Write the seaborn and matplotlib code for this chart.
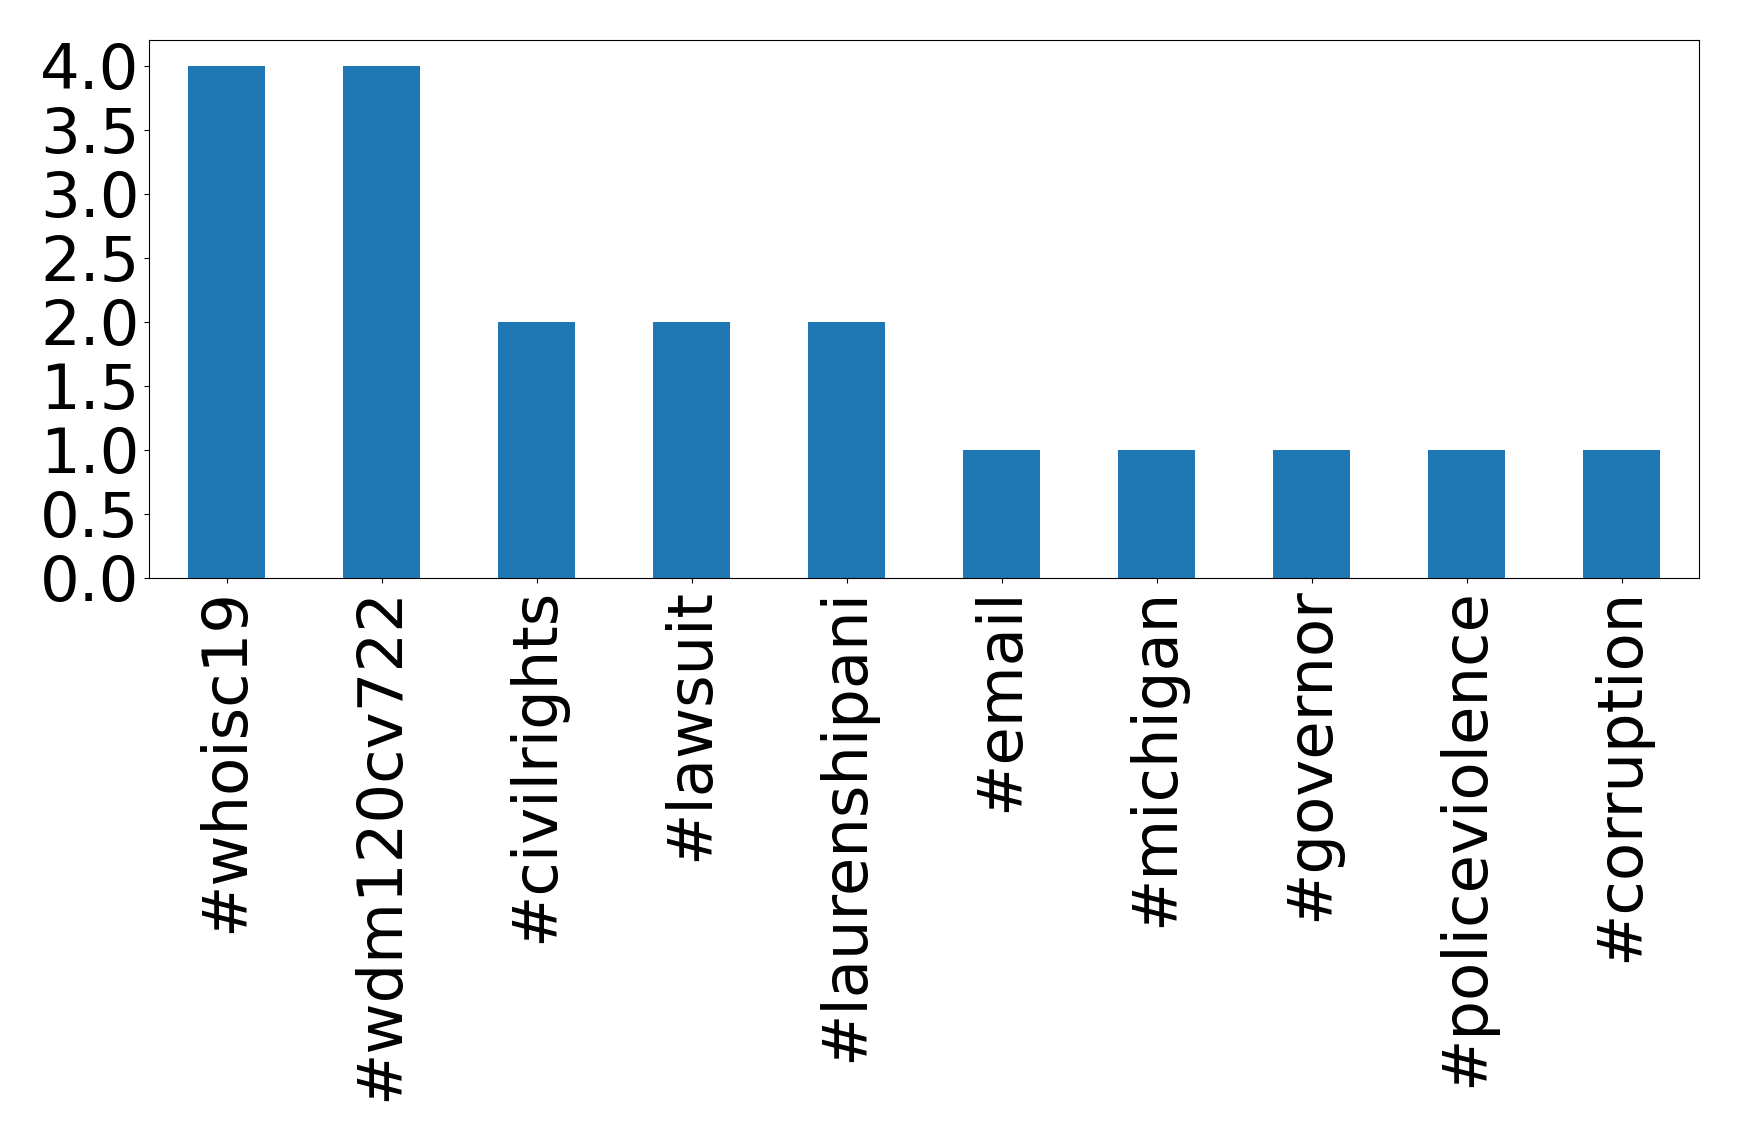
import matplotlib
matplotlib.use("Agg")
import matplotlib.pyplot as plt
import matplotlib.ticker as ticker
import seaborn as sns
import pandas as pd

# hashtag counts
hashtags = ["#whoisc19", "#wdm120cv722", "#civilrights", "#lawsuit",
            "#laurenshipani", "#email", "#michigan", "#governor",
            "#policeviolence", "#corruption"]
counts = [4, 4, 2, 2, 2, 1, 1, 1, 1, 1]

df = pd.DataFrame({"hashtag": hashtags, "count": counts})

fig, ax = plt.subplots(figsize=(17.39, 11.42), dpi=100)
sns.barplot(data=df, x="hashtag", y="count", color="#1f77b4",
            saturation=1, width=0.5, ax=ax)

ax.set_xlim(-0.5, len(hashtags) - 0.5)
ax.set_ylim(0, 4.2)
ax.yaxis.set_major_locator(ticker.MultipleLocator(0.5))
ax.yaxis.set_major_formatter(ticker.FormatStrFormatter("%.1f"))
ax.set_xlabel("")
ax.set_ylabel("")
ax.tick_params(axis="both", labelsize=45)
ax.tick_params(axis="x", labelrotation=90)

plt.subplots_adjust(left=0.0857, right=0.977, top=0.965, bottom=0.494)
plt.savefig("out.png", dpi=100)
